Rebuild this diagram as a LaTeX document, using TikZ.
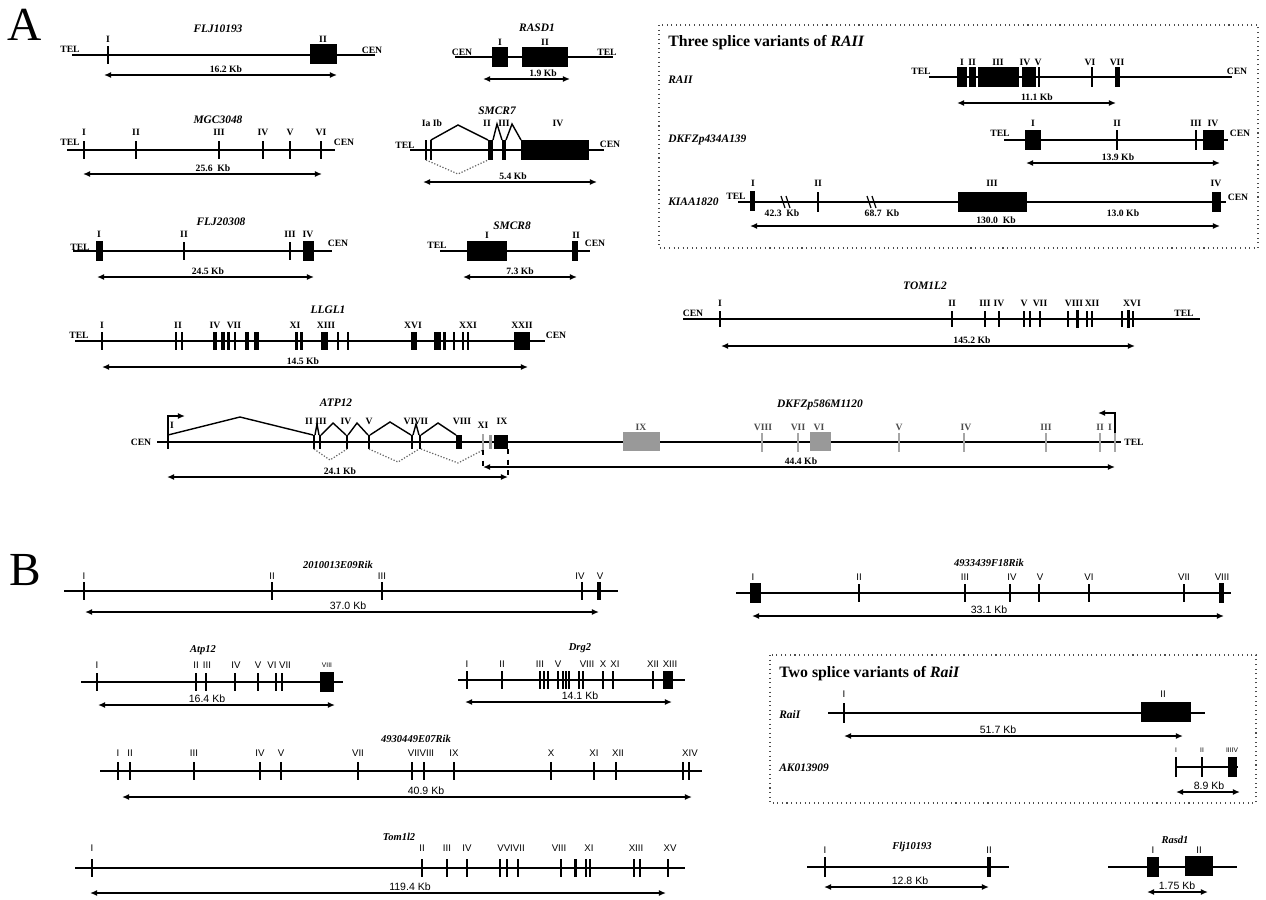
\documentclass[tikz,border=0pt]{standalone}
\usepackage{fontspec}
\setmainfont{Liberation Serif}
\newfontfamily\sansf{Liberation Sans}
\usetikzlibrary{arrows.meta}
\tikzset{
  intron/.style={line width=1pt},
  exthin/.style={line width=1.6pt},
  kbarr/.style={line width=1pt,{Latex[length=4pt,width=3.4pt]}-{Latex[length=4pt,width=3.4pt]}},
  lab/.style={font=\fontsize{5.5}{6}\selectfont\bfseries,inner sep=0pt},
  glab/.style={lab,text=black!70},
  gname/.style={font=\fontsize{6.5}{7}\selectfont\bfseries\itshape,inner sep=0pt},
  blab/.style={font=\sansf\fontsize{5.5}{6}\selectfont,inner sep=0pt},
  bkb/.style={font=\sansf\fontsize{6}{7}\selectfont,inner sep=0pt},
  tiny/.style={font=\sansf\fontsize{3.8}{4}\selectfont,inner sep=0pt},
  bname/.style={font=\fontsize{6}{7}\selectfont\bfseries\itshape,inner sep=0pt},
  boxtitle/.style={font=\fontsize{9}{10}\selectfont\bfseries,inner sep=0pt,anchor=west},
  varname/.style={font=\fontsize{6.5}{7}\selectfont\bfseries\itshape,inner sep=0pt,anchor=west},
  panel/.style={font=\fontsize{27}{28}\selectfont,inner sep=0pt},
  dotbox/.style={draw=black!70,line width=0.6pt,dotted},
  splice/.style={line width=0.8pt},
  skip/.style={line width=0.7pt,densely dotted,black!60},
  gex/.style={fill=black!40},
  gthin/.style={draw=black!35,line width=1.3pt},
  prom/.style={line width=0.9pt,-{Latex[length=4pt,width=3.4pt]}},
  brk/.style={line width=0.7pt},
}
\newcommand\Ln[3]{\draw[intron] (#2,#1) -- (#3,#1);}
\newcommand\Exs[3][9]{\foreach \xx in {#3}{\draw[exthin] (\xx,#2-#1) -- (\xx,#2+#1);}}
\newcommand\Bx[4][9]{\fill (#3,#2-#1) rectangle (#4,#2+#1);}
\newcommand\Lbs[3][lab]{\foreach \xx/\lbl in {#3}{\node[#1] at (\xx,#2) {\lbl};}}
\newcommand\Kb[6][lab]{\draw[kbarr] (#3,#2) -- (#4,#2); \node[#1] at (#5,#2-6) {#6};}
\begin{document}
\begin{tikzpicture}[x=0.02cm,y=-0.02cm]
\useasboundingbox (0,0) rectangle (1266,899);
\fill[white] (0,0) rectangle (1266,899);
% ================= A =================
\node[panel] (pA) at (25,25) {A};
% FLJ10193
\node[gname] (g1) at (218,29) {FLJ10193};
\Ln{55}{72}{375}
\node[lab] at (70,49) {TEL}; \node[lab] at (372,50) {CEN};
\Exs{55}{108}
\Bx[10]{54}{310}{337}
\Lbs{39}{108/I,323/II}
\Kb{75}{104}{337}{226}{16.2 Kb}
% MGC3048
\node[gname] (g2) at (218,120) {MGC3048};
\Ln{150}{67}{335}
\node[lab] at (70,142) {TEL}; \node[lab] at (344,142) {CEN};
\Exs{150}{84,136,219,263,290,321}
\Lbs{132}{84/I,136/II,219/III,263/IV,290/V,321/VI}
\Kb{174}{83}{322}{213}{25.6\ \ Kb}
% FLJ20308
\node[gname] (g3) at (221,222) {FLJ20308};
\Ln{251}{73}{332}
\node[lab] at (80,247) {TEL}; \node[lab] at (338,243) {CEN};
\Bx[10]{251}{96}{103}
\Exs{251}{184,290}
\Bx[10]{251}{303}{314}
\Lbs{234}{99/I,184/II,290/III,308/IV}
\Kb{277}{97}{314}{208}{24.5 Kb}
% LLGL1
\node[gname] (g4) at (328,310) {LLGL1};
\Ln{341}{75}{545}
\node[lab] at (79,335) {TEL}; \node[lab] at (556,335) {CEN};
\Exs{341}{102,176,182,235,338,348,454,463,468}
\Bx{341}{213}{217}\Bx{341}{221}{225}\Bx{341}{227}{230}
\Bx{341}{245}{249}\Bx{341}{254}{259}
\Bx{341}{295}{298}\Bx{341}{300}{303}
\Bx{341}{321}{328}
\Bx{341}{411}{417}\Bx{341}{434}{441}\Bx{341}{443}{446}
\Bx{341}{514}{530}
\Lbs{325}{102/I,178/II,215/IV,234/VII,295/XI,326/XIII,413/XVI,468/XXI,522/XXII}
\Kb{367}{102}{528}{303}{14.5 Kb}
% RASD1
\node[gname] (g5) at (537,28) {RASD1};
\Ln{57}{455}{613}
\node[lab] at (462,52) {CEN}; \node[lab] at (607,52) {TEL};
\Bx[10]{57}{492}{508}
\Bx[10]{57}{522}{568}
\Lbs{42}{500/I,545/II}
\Kb{79}{483}{570}{543}{1.9 Kb}
% SMCR7
\node[gname] (g6) at (497,111) {SMCR7};
\Ln{150}{410}{604}
\node[lab] at (405,145) {TEL}; \node[lab] at (610,144) {CEN};
\Exs[10]{150}{426,431}
\Bx[10]{150}{488}{493}
\Bx[10]{150}{502}{506}
\Bx[10]{150}{521}{589}
\Lbs{123}{432/Ia Ib,487/II,504/III,558/IV}
\draw[splice] (431,140) -- (458,125) -- (488,140);
\draw[splice] (493,140) -- (497,124) -- (502,140);
\draw[splice] (506,140) -- (512,124) -- (521,140);
\draw[skip] (426,160) -- (458,174) -- (488,160);
\Kb{182}{423}{597}{513}{5.4 Kb}
% SMCR8
\node[gname] (g7) at (512,226) {SMCR8};
\Ln{251}{440}{590}
\node[lab] at (437,245) {TEL}; \node[lab] at (595,243) {CEN};
\Bx[10]{251}{467}{507}
\Bx[10]{251}{572}{578}
\Lbs{235}{487/I,576/II}
\Kb{277}{463}{577}{520}{7.3 Kb}
% Box: three splice variants
\draw[dotbox] (659,25) rectangle (1258,248);
\node[boxtitle] (t1) at (668,43) {Three splice variants of \textit{RAII}};
\node[varname] at (668,80) {RAII};
\node[varname] at (668,140) {DKFZp434A139};
\node[varname] at (668,202) {KIAA1820};
% RAII
\Ln{77}{929}{1232}
\node[lab] at (921,71) {TEL}; \node[lab] at (1237,71) {CEN};
\Bx[10]{77}{957}{967}\Bx[10]{77}{969}{976}\Bx[10]{77}{978}{1019}\Bx[10]{77}{1022}{1036}
\Exs[10]{77}{1039,1092}
\Bx[10]{77}{1115}{1120}
\Lbs{62}{962/I,972/II,998/III,1025/IV,1038/V,1090/VI,1117/VII}
\Kb{103}{957}{1116}{1037}{11.1 Kb}
% DKFZp434A139
\Ln{140}{1004}{1228}
\node[lab] at (1000,133) {TEL}; \node[lab] at (1240,133) {CEN};
\Bx[10]{140}{1025}{1041}
\Exs[10]{140}{1117,1196}
\Bx[10]{140}{1203}{1224}
\Lbs{123}{1033/I,1117/II,1196/III,1213/IV}
\Kb{163}{1026}{1220}{1118}{13.9 Kb}
% KIAA1820
\Ln{202}{738}{1226}
\node[lab] at (736,196) {TEL}; \node[lab] at (1238,197) {CEN};
\Bx[10]{201}{750}{755}
\Exs[10]{202}{818}
\Bx[10]{202}{958}{1027}
\Bx[10]{202}{1212}{1221}
\foreach \bx in {786,872}{\draw[brk] (\bx-5,196) -- (\bx-1,208); \draw[brk] (\bx,196) -- (\bx+4,208);}
\Lbs{183}{753/I,818/II,992/III,1216/IV}
\node[lab] at (782,213) {42.3\ \ Kb};
\node[lab] at (882,213) {68.7\ \ Kb};
\node[lab] at (996,220) {130.0\ \ Kb};
\node[lab] at (1123,213) {13.0 Kb};
\draw[kbarr] (750,226) -- (1220,226);
% TOM1L2
\node[gname] (g8) at (925,286) {TOM1L2};
\Ln{319}{683}{1200}
\node[lab] at (693,313) {CEN}; \node[lab] at (1184,313) {TEL};
\Exs[8]{319}{720,952,985,999,1024,1030,1040,1068,1087,1092,1122,1133}
\Bx{319}{1076}{1079}\Bx{319}{1127}{1130}
\Lbs{303}{720/I,952/II,985/III,999/IV,1024/V,1040/VII,1074/VIII,1092/XII,1132/XVI}
\Kb{346}{721}{1135}{972}{145.2 Kb}
% ATP12 / DKFZp586M1120
\Ln{442}{157}{1121}
\node[lab] at (141,442) {CEN};
\node[lab] at (1134,442) {TEL};
\node[gname] (g9) at (336,403) {ATP12};
\Exs[7]{442}{168,314,320,347,369,412,420}
\Bx[7]{442}{456}{462}
\draw[prom] (168,435) -- (168,416) -- (185,416);
\node[lab] at (172,425) {I};
\draw[gthin] (483,434) -- (483,450);
\fill[black!40] (489,435) rectangle (492,449);
\Bx[7]{442}{494}{508}
\Lbs{421}{309/II,321/III,346/IV,369/V,409/VI,421/VII,462/VIII,502/IX}
\node[lab] at (483,425) {XI};
\draw[splice] (168,435) -- (240,417) -- (313,435);
\draw[splice] (315,435) -- (317,424) -- (319,435);
\draw[splice] (321,435) -- (333,423) -- (346,435);
\draw[splice] (348,435) -- (357,423) -- (368,435);
\draw[splice] (370,435) -- (390,422) -- (411,435);
\draw[splice] (413,435) -- (416,424) -- (419,435);
\draw[splice] (421,435) -- (438,423) -- (456,435);
\draw[skip] (314,449) -- (330,460) -- (347,449);
\draw[skip] (369,449) -- (398,462) -- (419,449);
\draw[skip] (421,449) -- (458,463) -- (483,450);
\draw[dashed,line width=0.7pt] (483,450) -- (483,467);
\draw[dashed,line width=0.7pt] (508,449) -- (508,477);
\Kb{477}{167}{508}{340}{24.1 Kb}
\Kb{467}{483}{1115}{801}{44.4 Kb}
\node[gname] (g10) at (820,405) {DKFZp586M1120};
\fill[gex] (623,432) rectangle (660,451);
\fill[gex] (810,432) rectangle (831,451);
\foreach \xx in {762,798,899,964,1046,1100,1115}{\draw[gthin] (\xx,433) -- (\xx,452);}
\Lbs[glab]{427}{641/IX,763/VIII,798/VII,819/VI,899/V,966/IV,1046/III,1100/II,1110/I}
\draw[prom] (1115,433) -- (1115,413) -- (1098,413);
% ================= B =================
\node[panel] (pB) at (25,570) {B};
% 2010013E09Rik
\node[bname] (h1) at (338,565) {2010013E09Rik};
\Ln{591}{64}{618}
\Exs{591}{84,272,382,582}
\Bx{591}{597}{601}
\Lbs[blab]{576}{84/I,272/II,382/III,580/IV,600/V}
\Kb[bkb]{612}{85}{599}{348}{37.0 Kb}
% Atp12
\node[bname] (h2) at (203,650) {Atp12};
\Ln{682}{81}{343}
\Exs{682}{97,196,206,235,258,276,282}
\Bx[10]{682}{320}{334}
\Lbs[blab]{665}{97/I,196/II,207/III,236/IV,258/V,272/VI,285/VII}
\node[tiny] at (327,665) {VIII};
\Kb[bkb]{705}{98}{335}{207}{16.4 Kb}
% Drg2
\node[bname] (h3) at (580,648) {Drg2};
\Ln{680}{458}{685}
\Exs{680}{467,502,540,544,548,558,563,566,569,579,583,603,613,653}
\Bx{680}{663}{673}
\Lbs[blab]{664}{467/I,502/II,540/III,558/V,587/VIII,603/X,615/XI,653/XII,670/XIII}
\Kb[bkb]{702}{465}{672}{580}{14.1 Kb}
% 4933439F18Rik
\node[bname] (h4) at (989,563) {4933439F18Rik};
\Ln{593}{736}{1231}
\Bx[10]{593}{750}{761}
\Exs{593}{859,965,1010,1039,1089,1184}
\Bx[10]{593}{1219}{1224}
\Lbs[blab]{577}{753/I,859/II,965/III,1012/IV,1040/V,1089/VI,1184/VII,1222/VIII}
\Kb[bkb]{616}{752}{1224}{989}{33.1 Kb}
% Box: two splice variants
\draw[dotbox] (770,655) rectangle (1256,803);
\node[boxtitle] (t2) at (779,674) {Two splice variants of \textit{RaiI}};
\node[varname] at (779,715) {RaiI};
\node[varname] at (779,768) {AK013909};
\Ln{713}{828}{1205}
\Exs[10]{713}{844}
\Bx[10]{712}{1141}{1191}
\Lbs[blab]{694}{844/I,1163/II}
\Kb[bkb]{736}{844}{1183}{998}{51.7 Kb}
\Ln{767}{1176}{1238}
\Exs[10]{767}{1176,1202}
\Bx[10]{767}{1228}{1237}
\Lbs[tiny]{750}{1176/I,1202/II,1232/IIIIV}
\Kb[bkb]{792}{1176}{1240}{1209}{8.9 Kb}
% 4930449E07Rik
\node[bname] (h5) at (416,739) {4930449E07Rik};
\Ln{771}{100}{702}
\Exs{771}{118,130,194,260,281,358,412,424,454,551,594,616,683,689}
\Lbs[blab]{753}{118/I,130/II,194/III,260/IV,281/V,358/VII,421/VIIVIII,454/IX,551/X,594/XI,618/XII,690/XIV}
\Kb[bkb]{797}{122}{692}{426}{40.9 Kb}
% Tom1l2
\node[bname] (h6) at (399,837) {Tom1l2};
\Ln{868}{75}{685}
\Exs{868}{92,422,447,467,500,507,518,561,586,590,634,640,668}
\Bx{868}{574}{577}
\Lbs[blab]{848}{92/I,422/II,447/III,467/IV,511/VVIVII,559/VIII,589/XI,636/XIII,670/XV}
\Kb[bkb]{893}{90}{666}{410}{119.4 Kb}
% Flj10193
\node[bname] (h7) at (912,847) {Flj10193};
\Ln{867}{807}{1009}
\Exs[10]{867}{825}
\Bx[10]{867}{987}{991}
\Lbs[blab]{850}{825/I,989/II}
\Kb[bkb]{887}{824}{989}{910}{12.8 Kb}
% Rasd1
\node[bname] (h8) at (1175,840) {Rasd1};
\Ln{867}{1108}{1237}
\Bx[10]{867}{1147}{1159}
\Bx[10]{866}{1185}{1213}
\Lbs[blab]{850}{1153/I,1199/II}
\Kb[bkb]{892}{1147}{1208}{1177}{1.75 Kb}
\end{tikzpicture}
\end{document}
